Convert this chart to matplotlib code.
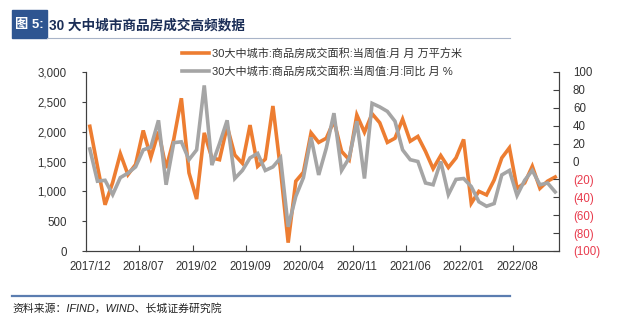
import matplotlib
matplotlib.use("Agg")
import matplotlib.pyplot as plt
from matplotlib.lines import Line2D
from matplotlib.patches import Rectangle
import numpy as np

plt.rcParams['font.family'] = ['Liberation Sans', 'Noto Sans CJK SC']

months = [f"{y}/{m:02d}" for y in range(2017, 2024) for m in range(1, 13)]
months = months[months.index("2017/12"):months.index("2023/01") + 1]

area = [2090, 1420, 775, 1150, 1630, 1280, 1450, 2020, 1570, 2000,
        1390, 1870, 2560, 1310, 870, 1980, 1560, 1530, 2090, 1610,
        1470, 2110, 1420, 1540, 2430, 1360, 140, 1170, 1320, 1980,
        1820, 1890, 2180, 1670, 1530, 2280, 1990, 2300, 2150, 1820,
        1890, 2210, 1840, 1920, 1670, 1380, 1600, 1400, 1560, 1870,
        800, 1000, 940, 1190, 1560, 1730, 1050, 1140, 1420, 1050,
        1170, 1240]

yoy = [14, -22, -21, -37, -18, -13, -6, 13, 16, 46,
       -26, 21, 22, 2, 13, 85, -4, 20, 46, -19,
       -10, 4, 9, -10, -6, 4, -73, -39, -18, 27,
       -15, 15, 54, -10, 4, 45, -19, 65, 61, 56,
       45, 13, 2, 0, -24, -26, 0, -37, -20, -19,
       -28, -45, -50, -47, -15, -10, -38, -21, -10, -26,
       -24, -34]

label_area = "30大中城市:商品房成交面积:当周值:月 月 万平方米"
label_yoy = "30大中城市:商品房成交面积:当周值:月:同比 月 %"

orange = "#ED7D31"
gray = "#A5A5A5"
axis_col = "#404040"
text_col = "#333333"

W, H = 640, 331
fig = plt.figure(figsize=(W / 100, H / 100), dpi=100)

def fx(px): return px / W
def fy(py): return 1 - py / H

ax = fig.add_axes([fx(86), fy(251), fx(559) - fx(86), fy(72) - fy(251)])
ax2 = ax.twinx()

x = np.arange(len(months))
ax.plot(x, area, color=orange, lw=2.6, solid_joinstyle='miter', zorder=2)
ax2.plot(x, yoy, color=gray, lw=2.6, solid_joinstyle='miter', zorder=3)

ax.set_xlim(-0.5, len(months) - 0.5)
ax.set_ylim(0, 3000)
ax2.set_ylim(-100, 100)

ax.set_yticks(np.arange(0, 3001, 500))
ax.set_yticklabels([f"{v:,}" for v in range(0, 3001, 500)])
rt = np.arange(-100, 101, 20)
ax2.set_yticks(rt)
ax2.set_yticklabels([f"({-v})" if v < 0 else f"{v}" for v in rt])
for lbl, v in zip(ax2.get_yticklabels(), rt):
    lbl.set_color("#E83A4C" if v < 0 else text_col)

lab_idx = list(range(0, len(months), 7))
ax.set_xticks([i - 0.5 for i in lab_idx[1:]])
ax.set_xticklabels([])
ax.set_xticks(lab_idx, minor=True)
ax.set_xticklabels([months[i] for i in lab_idx], minor=True)
ax.tick_params(axis='x', which='major', direction='in', length=4, color=axis_col, width=0.8)
ax.tick_params(axis='x', which='minor', length=0, pad=7, labelsize=8.3, labelcolor=text_col)
ax.tick_params(axis='y', direction='out', length=3, color=axis_col, width=0.8, pad=11,
               labelsize=8.3, labelcolor=text_col)
ax2.tick_params(axis='y', direction='in', length=4, color=axis_col, width=0.8, pad=10,
                labelsize=8.3)

for a in (ax, ax2):
    a.spines['top'].set_visible(False)
    for s in ('left', 'right', 'bottom'):
        a.spines[s].set_color(axis_col)
        a.spines[s].set_linewidth(0.8)
    a.patch.set_visible(False)

# legend
handles = [Line2D([], [], color=orange, lw=2.6), Line2D([], [], color=gray, lw=2.6)]
fig.legend(handles, [label_area, label_yoy], loc='upper left',
           bbox_to_anchor=(fx(176), fy(42)), frameon=False, fontsize=8,
           handlelength=2.5, handletextpad=0.25, labelspacing=0.7,
           borderpad=0, labelcolor=text_col)

# title block
fig.patches.append(Rectangle((fx(12), fy(38)), fx(47) - fx(12), fy(10) - fy(38),
                             transform=fig.transFigure, color="#2E5591", zorder=1))
fig.text(fx(15), fy(25), "图 5:", color="white", fontsize=9.5, fontweight='bold',
         va='center', ha='left')
fig.text(fx(49), fy(25), "30 大中城市商品房成交高频数据", color="#1B2E57", fontsize=9.8,
         fontweight='bold', va='center', ha='left')
fig.add_artist(Line2D([fx(47), fx(510)], [fy(37.5), fy(37.5)], transform=fig.transFigure,
                      color="#A8B4C8", lw=0.8))

# footer
fig.add_artist(Line2D([fx(12), fx(510)], [fy(296), fy(296)], transform=fig.transFigure,
                      color="#5B7DB0", lw=1.6))
fig.text(fx(12), fy(308), "资料来源：IFIND，WIND、长城证券研究院", color="#222222",
         fontsize=7.8, style='italic', va='center', ha='left')

fig.savefig("out.png", dpi=100)
